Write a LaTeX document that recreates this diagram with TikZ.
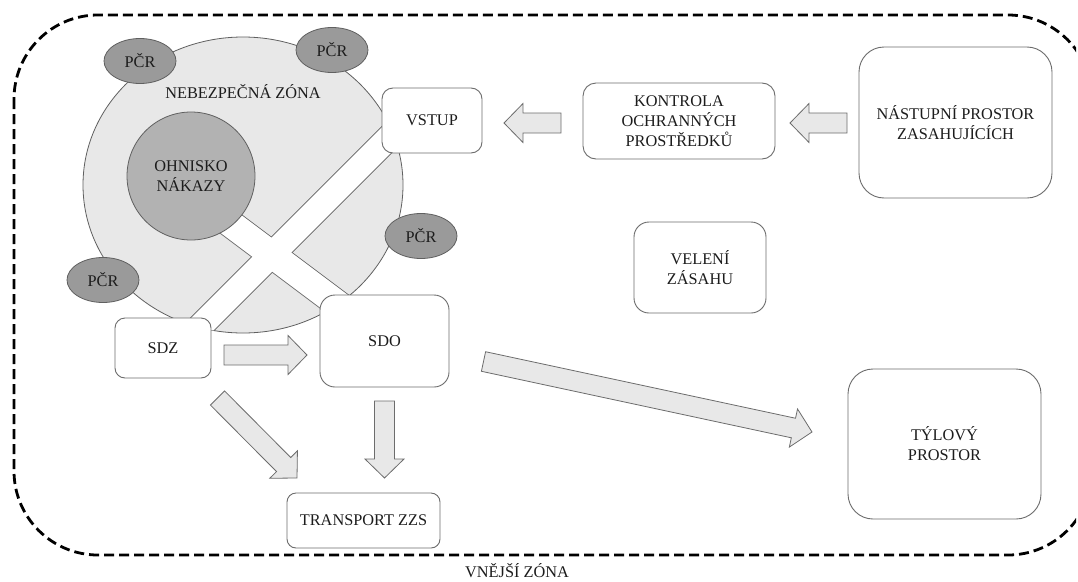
\documentclass[tikz,border=0pt]{standalone}
\usepackage{fontspec}
\setmainfont{Liberation Serif}
\usetikzlibrary{shapes.geometric,calc}

\definecolor{zonefill}{HTML}{E8E8E8}
\definecolor{focusfill}{HTML}{B2B2B2}
\definecolor{policefill}{HTML}{9A9A9A}
\definecolor{edgegray}{HTML}{606060}
\definecolor{boxgray}{HTML}{6C6C6C}
\definecolor{arrowfill}{HTML}{E8E8E8}
\definecolor{textgray}{HTML}{1C1C1C}

\tikzset{
  lbl/.style={font=\fontsize{16.3}{20}\selectfont, text=textgray, align=center, inner sep=0pt},
  box/.style={lbl, draw=boxgray, fill=white, line width=0.9pt, rounded corners=#1},
  pcr/.style={lbl, ellipse, draw=edgegray, fill=policefill, line width=0.8pt,
    minimum width=72, minimum height=45},
  fat/.style={draw=boxgray, fill=arrowfill, line width=0.8pt},
}

% block arrow from #1 to #2
\newcommand{\fatarrow}[2]{%
  \coordinate (fh) at ($(#2)!19pt!(#1)$);
  \draw[fat] ($(#1)!10pt!90:(#2)$) -- ($(fh)!10pt!-90:(#1)$) -- ($(fh)!19.5pt!-90:(#1)$)
    -- (#2) -- ($(fh)!19.5pt!90:(#1)$) -- ($(fh)!10pt!90:(#1)$) -- ($(#1)!10pt!-90:(#2)$) -- cycle;
}

\begin{document}
\begin{tikzpicture}[x=1pt, y=-1pt]
  \path[fill=white, use as bounding box] (0,0) rectangle (1078,581);

  \node[ellipse, draw=edgegray, fill=zonefill, line width=0.8pt,
    minimum width=320, minimum height=296, inner sep=0pt] (zone) at (243,185) {};
  \begin{scope}
    \clip (zone.center) ellipse [x radius=160pt, y radius=148pt];
    \coordinate (ra1) at (430,96.5);
    \coordinate (ra2) at (168,358.5);
    \coordinate (rb1) at (200,200.75);
    \coordinate (rb2) at (380,335.75);
    \draw[edgegray, line width=26.3pt] (ra1) -- (ra2);
    \draw[edgegray, line width=28.4pt] (rb1) -- (rb2);
    \draw[white, line width=24.7pt] (ra1) -- (ra2);
    \draw[white, line width=26.8pt] (rb1) -- (rb2);
  \end{scope}

  \node[lbl, circle, draw=edgegray, fill=focusfill, line width=0.8pt,
    minimum size=128] (focus) at (191,176) {OHNISKO\\NÁKAZY};
  \node[lbl] (zonetext) at (243,92) {NEBEZPEČNÁ ZÓNA};

  \node[pcr] (pcr1) at (140,61) {PČR};
  \node[pcr] (pcr2) at (332,50) {PČR};
  \node[pcr] (pcr3) at (421,236) {PČR};
  \node[pcr] (pcr4) at (103,280) {PČR};

  \node[box=11pt, minimum width=100, minimum height=65] (vstup) at (432,120.5) {VSTUP};
  \node[box=13pt, minimum width=192, minimum height=76] (kontrola) at (679,121) {KONTROLA\\OCHRANNÝCH\\PROSTŘEDKŮ};
  \node[box=25pt, minimum width=193, minimum height=151] (nastup) at (955.5,122.5) {NÁSTUPNÍ PROSTOR\\ZASAHUJÍCÍCH};
  \node[box=15pt, minimum width=132, minimum height=91] (veleni) at (700,267.5) {VELENÍ\\ZÁSAHU};
  \node[box=10pt, minimum width=96, minimum height=60] (sdz) at (163,348) {SDZ};
  \node[box=15pt, minimum width=129, minimum height=92] (sdo) at (384.5,341) {SDO};
  \node[box=9pt, minimum width=153, minimum height=55] (transport) at (363.5,520.5) {TRANSPORT ZZS};
  \node[box=25pt, minimum width=193, minimum height=150] (tyl) at (944.5,444) {TÝLOVÝ\\PROSTOR};

  \coordinate (k1) at (561,123);   \coordinate (k2) at (504,123);
  \coordinate (n1) at (847,123);   \coordinate (n2) at (790,123);
  \coordinate (s1) at (224,355);   \coordinate (s2) at (307,355);
  \coordinate (d1) at (217.5,398); \coordinate (d2) at (297,478);
  \coordinate (o1) at (384.5,401); \coordinate (o2) at (384.5,478);
  \coordinate (t1) at (483.5,361.5); \coordinate (t2) at (812,432);
  \fatarrow{k1}{k2}
  \fatarrow{n1}{n2}
  \fatarrow{s1}{s2}
  \fatarrow{d1}{d2}
  \fatarrow{o1}{o2}
  \fatarrow{t1}{t2}

  \begin{scope}
    \clip (0,0) rectangle (1076,581);
    \draw[black, line width=2.8pt, dash pattern=on 10pt off 5pt, rounded corners=84]
      (14,15) rectangle (1092,555);
  \end{scope}
  \node[lbl, anchor=base] (outer) at (517,577) {VNĚJŠÍ ZÓNA};
\end{tikzpicture}
\end{document}
